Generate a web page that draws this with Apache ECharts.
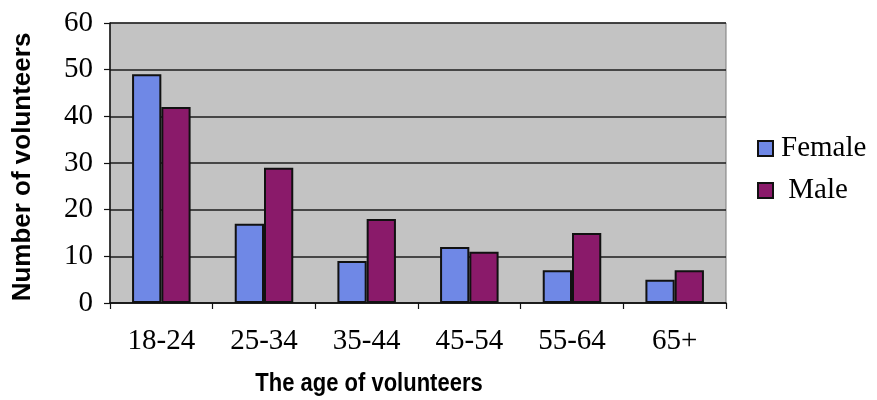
<!DOCTYPE html>
<html>
<head>
<meta charset="utf-8">
<script src="https://cdn.jsdelivr.net/npm/echarts@6/dist/echarts.min.js"></script>
<style>
  html, body { margin: 0; padding: 0; background: #ffffff; }
  #chart { width: 877px; height: 400px; }
</style>
</head>
<body>
<div id="chart"></div>
<script>
// Volunteers by age group and gender
const ageGroups = ['18-24', '25-34', '35-44', '45-54', '55-64', '65+'];
const femaleCounts = [49, 17, 9, 12, 7, 5];
const maleCounts = [42, 29, 18, 11, 15, 7];
const yTicks = { min: 0, max: 60, step: 10 };

const SERIF = '"Liberation Serif", "Times New Roman", serif';
const SANS = '"Liberation Sans", Arial, sans-serif';

const chart = echarts.init(document.getElementById('chart'), null, { renderer: 'canvas' });

chart.setOption({
  animation: false,
  backgroundColor: '#ffffff',
  grid: {
    left: 110, right: 151, top: 23, bottom: 97,
    show: true,
    backgroundColor: '#c3c3c3',
    borderColor: '#7a7a7a',
    borderWidth: 1
  },
  legend: {
    orient: 'vertical',
    left: 752,
    top: 129,
    itemWidth: 15,
    itemHeight: 15,
    itemGap: 13,
    icon: 'rect',
    data: ['Female', 'Male'],
    formatter: name => (name === 'Male' ? ' Male' : name),
    textStyle: { fontFamily: SERIF, fontSize: 29, color: '#000', padding: [0, 0, 0, 3] }
  },
  xAxis: {
    type: 'category',
    data: ageGroups,
    axisLine: { show: true, lineStyle: { color: '#111', width: 1.5 } },
    axisTick: { show: true, length: 6, lineStyle: { color: '#111', width: 1.2 } },
    axisLabel: { fontFamily: SERIF, fontSize: 29, color: '#000', margin: 24 },
    splitLine: { show: false }
  },
  yAxis: {
    type: 'value',
    min: yTicks.min,
    max: yTicks.max,
    interval: yTicks.step,
    axisLine: { show: true, lineStyle: { color: '#111', width: 1.5 } },
    axisTick: { show: true, length: 6, lineStyle: { color: '#111', width: 1.2 } },
    axisLabel: { fontFamily: SERIF, fontSize: 29, color: '#000', margin: 17 },
    splitLine: { show: true, lineStyle: { color: '#1c1c1c', width: 1.5 } }
  },
  series: [
    {
      name: 'Female',
      type: 'bar',
      data: femaleCounts,
      barGap: '0%',
      barCategoryGap: '43%',
      itemStyle: { color: '#6f88e6', borderColor: '#111', borderWidth: 2 }
    },
    {
      name: 'Male',
      type: 'bar',
      data: maleCounts,
      itemStyle: { color: '#8a1a6a', borderColor: '#111', borderWidth: 2 }
    }
  ],
  graphic: [
    {
      type: 'text',
      x: 23, y: 167,
      rotation: Math.PI / 2,
      style: {
        text: 'Number of volunteers',
        font: 'bold 26px ' + SANS,
        fill: '#000',
        textAlign: 'center',
        textVerticalAlign: 'middle'
      }
    },
    {
      type: 'text',
      x: 369, y: 384,
      scaleY: 1.15,
      style: {
        text: 'The age of volunteers',
        font: 'bold 22px ' + SANS,
        fill: '#000',
        textAlign: 'center',
        textVerticalAlign: 'middle'
      }
    }
  ]
});
</script>
</body>
</html>
